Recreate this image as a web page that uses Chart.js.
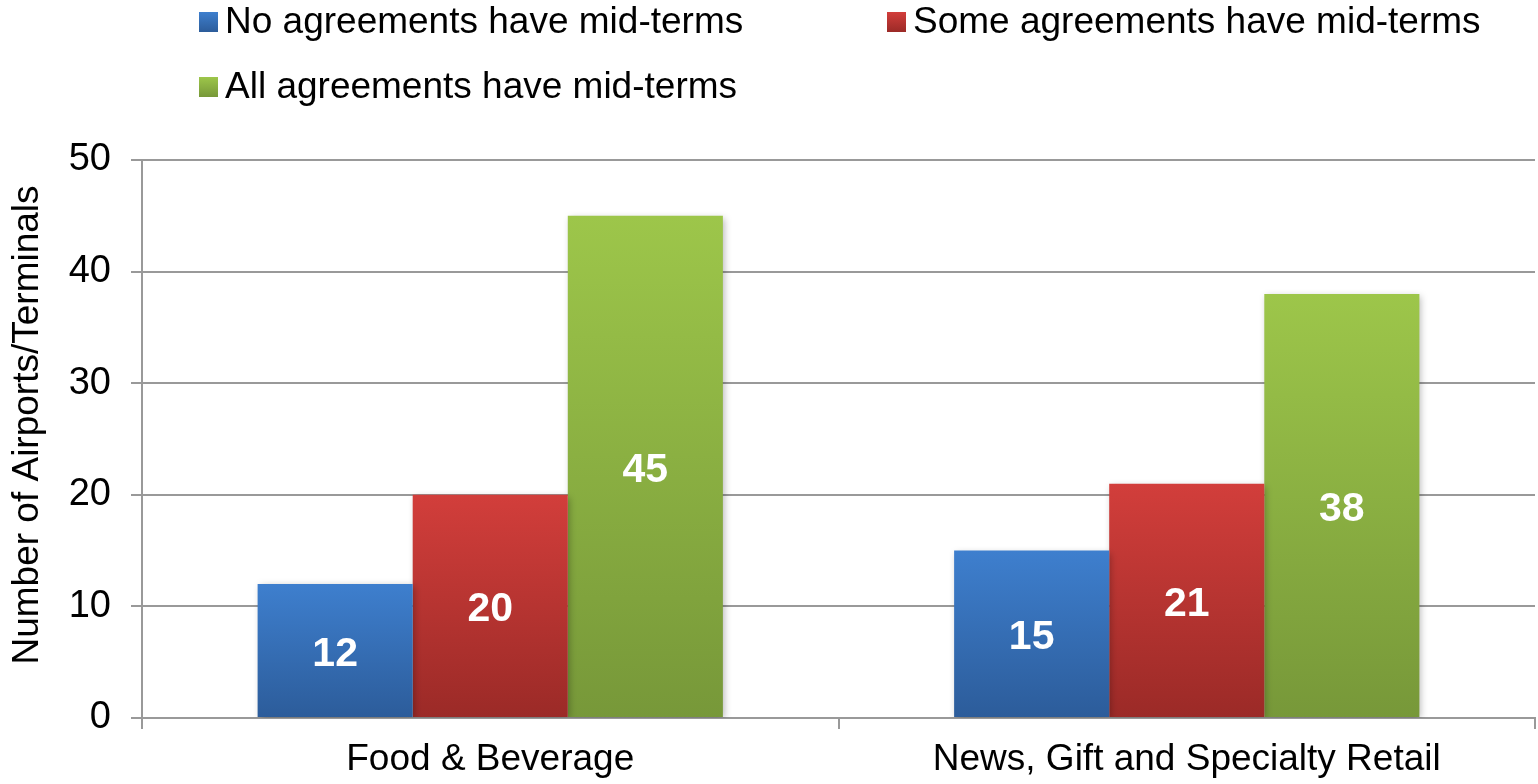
<!DOCTYPE html>
<html>
<head>
<meta charset="utf-8">
<script src="https://cdn.jsdelivr.net/npm/chart.js@4.4.1/dist/chart.umd.min.js"></script>
<style>
  html, body { margin: 0; padding: 0; background: #fff; }
  #wrap { width: 1538px; height: 784px; }
</style>
</head>
<body>
<div id="wrap"><canvas id="chart"></canvas></div>
<script>
const categories = ['Food & Beverage', 'News, Gift and Specialty Retail'];
const seriesNames = ['No agreements have mid-terms', 'Some agreements have mid-terms', 'All agreements have mid-terms'];
const noMidTerms = [12, 15];
const someMidTerms = [20, 21];
const allMidTerms = [45, 38];
const yTicks = [0, 10, 20, 30, 40, 50];
const yTitle = 'Number of Airports/Terminals';

// top / bottom colour of each series gradient
const palette = [
    ['#3e7fce', '#2c5c9a'],
    ['#d23e3b', '#9b2a27'],
    ['#9dc64a', '#779839']
];

const FONT = 'Liberation Sans, Arial, sans-serif';

function barGradient(idx) {
    return function (ctx) {
        const chart = ctx.chart;
        if (!chart.chartArea || ctx.type !== 'data') return palette[idx][0];
        const y = chart.scales.y;
        const top = y.getPixelForValue(ctx.raw);
        const bottom = y.getPixelForValue(0);
        const g = chart.ctx.createLinearGradient(0, top, 0, bottom);
        g.addColorStop(0, palette[idx][0]);
        g.addColorStop(1, palette[idx][1]);
        return g;
    };
}

// soft shadow behind the bars
const barShadow = {
    id: 'barShadow',
    beforeDatasetsDraw(chart) {
        const c = chart.ctx;
        c.save();
        c.shadowColor = 'rgba(0,0,0,0.28)';
        c.shadowBlur = 7;
        c.shadowOffsetX = 2;
        c.shadowOffsetY = 2;
    },
    afterDatasetsDraw(chart) {
        chart.ctx.restore();
    }
};

// white value in the middle of each bar
const valueLabels = {
    id: 'valueLabels',
    afterDatasetsDraw(chart) {
        const c = chart.ctx;
        c.save();
        c.fillStyle = '#ffffff';
        c.font = 'bold 41px ' + FONT;
        c.textAlign = 'center';
        c.textBaseline = 'middle';
        chart.data.datasets.forEach((ds, i) => {
            chart.getDatasetMeta(i).data.forEach((bar, j) => {
                const mid = (bar.y + bar.base) / 2;
                c.fillText(String(ds.data[j]), bar.x, mid + 4);
            });
        });
        c.restore();
    }
};

// legend in two rows, left aligned, plus the rotated y title
const legendRows = {
    id: 'legendRows',
    afterDraw(chart) {
        const c = chart.ctx;
        const spots = [[199, 22], [887, 22], [199, 87]];
        c.save();
        c.font = '37px ' + FONT;
        c.textBaseline = 'middle';
        seriesNames.forEach((name, i) => {
            const [x, y] = spots[i];
            const g = c.createLinearGradient(0, y - 10, 0, y + 10);
            g.addColorStop(0, palette[i][0]);
            g.addColorStop(1, palette[i][1]);
            c.fillStyle = g;
            c.fillRect(x, y - 10, 19, 20);
            c.fillStyle = '#000';
            c.fillText(name, x + 26, y + 1);
        });

        c.translate(28, 425);
        c.rotate(-Math.PI / 2);
        c.textAlign = 'center';
        c.font = '37px ' + FONT;
        c.fillText(yTitle, 0, 0);
        c.restore();
    }
};

const seriesData = [noMidTerms, someMidTerms, allMidTerms];

new Chart(document.getElementById('chart'), {
    type: 'bar',
    data: {
        labels: categories,
        datasets: seriesNames.map((name, i) => ({
            label: name,
            data: seriesData[i],
            backgroundColor: barGradient(i),
            borderWidth: 0,
            barPercentage: 1,
            categoryPercentage: 0.668
        }))
    },
    options: {
        responsive: true,
        maintainAspectRatio: false,
        animation: false,
        devicePixelRatio: 1,
        layout: { padding: { top: 160, right: 3, left: 0, bottom: 0 } },
        plugins: {
            legend: { display: false },
            tooltip: { enabled: false }
        },
        scales: {
            x: {
                grid: { offset: true, drawOnChartArea: false, color: '#999', lineWidth: 2, tickLength: 11 },
                border: { color: '#999', width: 2 },
                ticks: { color: '#000', font: { family: FONT, size: 37 }, padding: 9 },
                afterFit(scale) { scale.height = 66; }
            },
            y: {
                min: 0,
                max: 50,
                afterBuildTicks(scale) { scale.ticks = yTicks.map(v => ({ value: v })); },
                grid: { color: '#999', lineWidth: 2, tickLength: 11 },
                border: { color: '#999', width: 2 },
                ticks: { color: '#000', font: { family: FONT, size: 38 }, padding: 20 },
                afterFit(scale) { scale.width = 142; }
            }
        }
    },
    plugins: [barShadow, valueLabels, legendRows]
});
</script>
</body>
</html>
